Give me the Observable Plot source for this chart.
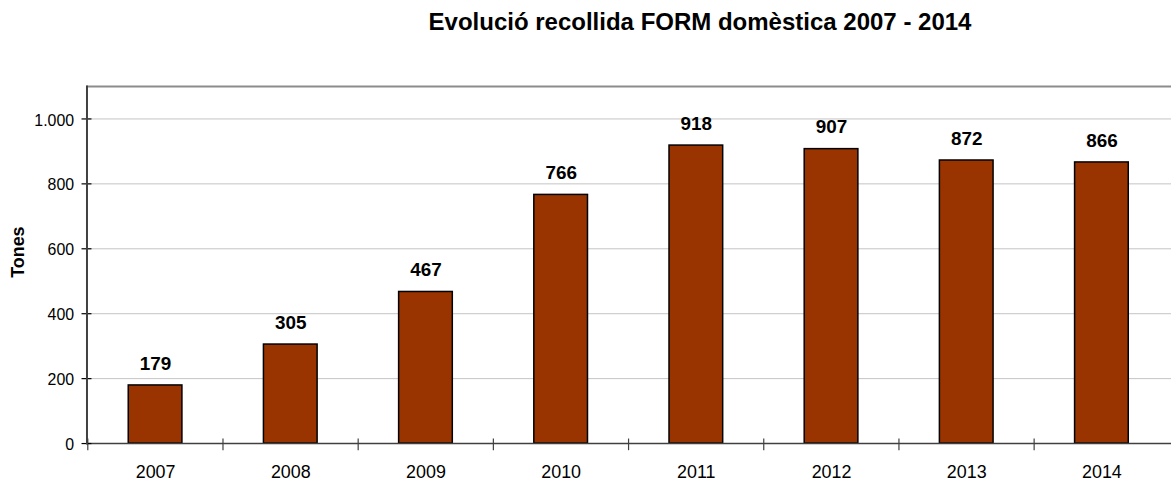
<!DOCTYPE html>
<html>
<head>
<meta charset="utf-8">
<script src="https://cdn.jsdelivr.net/npm/d3@7"></script>
<script src="https://cdn.jsdelivr.net/npm/@observablehq/plot@0.6"></script>
<style>
  html, body { margin: 0; padding: 0; background: #fff; overflow: hidden; }
  #wrap { position: relative; width: 1173px; height: 484px; overflow: hidden; }
  #title { position: absolute; left: 0; top: 10px; width: 1400px; text-align: center; line-height: 24px;
    font-family: "Liberation Sans", Arial, sans-serif; font-weight: bold; font-size: 24px; color: #000; }
  #chart { position: absolute; left: 0; top: 0; }
</style>
</head>
<body>
<div id="wrap">
  <div id="chart"></div>
  <div id="title">Evolució recollida FORM domèstica 2007 - 2014</div>
</div>
<script>
const years = ["2007", "2008", "2009", "2010", "2011", "2012", "2013", "2014"];
const tonnes = [179, 305, 467, 766, 918, 907, 872, 866];
const yTicks = [0, 200, 400, 600, 800, 1000];
const yLabel = "Tones";

const data = years.map((y, i) => ({year: y, value: tonnes[i]}));

const W = 1180, ML = 87, MR = 2;
const step = (W - ML - MR) / years.length;
const fmt = d => d3.format(",")(d).replace(/,/g, ".");
const font = "Liberation Sans, Arial, sans-serif";

const chart = Plot.plot({
  width: W,
  height: 484,
  marginLeft: ML,
  marginRight: MR,
  marginTop: 86.5,
  marginBottom: 38.3,
  style: {fontFamily: font, background: "transparent", overflow: "visible"},
  x: {domain: years, paddingInner: 0.6, paddingOuter: 0.3, label: null},
  y: {domain: [0, 1100], label: null},
  marks: [
    Plot.ruleY(yTicks.filter(d => d > 0), {stroke: "#c4c4c4", strokeWidth: 1}),
    Plot.ruleY([1100], {stroke: "#8c8c8c", strokeWidth: 2}),
    Plot.barY(data, {x: "year", y: "value", fill: "#993300", stroke: "#000", strokeWidth: 1.5}),
    Plot.ruleY([0], {stroke: "#404040", strokeWidth: 1.5}),
    Plot.ruleX(years, {x: d => d, dx: -step / 2, y1: -22, y2: 14, stroke: "#404040", strokeWidth: 1.2, clip: false}),
    Plot.axisY({ticks: yTicks, tickSize: 10, dx: 5, tickFormat: () => "", stroke: "#000", strokeWidth: 1.2}),
    Plot.axisY({ticks: yTicks, tickSize: 0, tickPadding: 13, dy: 1.5, tickFormat: fmt, fontSize: 16, fill: "#000", label: null}),
    Plot.frame({anchor: "left", stroke: "#404040", strokeWidth: 2}),
    Plot.axisX({tickSize: 0, tickPadding: 22, fontSize: 18, fill: "#000", label: null}),
    Plot.text(data, {x: "year", y: "value", text: d => String(d.value), dy: -22, fontSize: 19, fontWeight: "bold", fill: "#000"}),
    Plot.text([yLabel], {frameAnchor: "left", textAnchor: "middle", dx: -69, dy: -13, rotate: -90, text: d => d, fontSize: 18, fontWeight: "bold", fill: "#000"})
  ]
});
document.getElementById("chart").appendChild(chart);
</script>
</body>
</html>
